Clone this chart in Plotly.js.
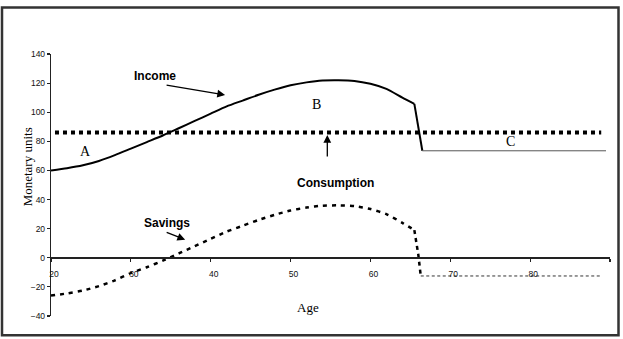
<!DOCTYPE html>
<html>
<head>
<meta charset="utf-8">
<script src="https://cdn.plot.ly/plotly-3.0.1.min.js"></script>
<style>html,body{margin:0;padding:0;background:#fff;}#chart{width:623px;height:339px;}</style>
</head>
<body>
<div id="chart"></div>
<script>
// Income (working life)
const incomeAges = [20,22,24,26,28,30,32,34,36,38,40,42,44,46,48,50,52,54,56,58,60,62,64,65.5];
const incomeVals = [60,61.5,63.5,66.5,70.5,75,79.5,84,89,94,99,104,108,112,115.5,118.5,120.5,121.8,122,121.5,119.5,116,110,105.7];
// Drop at retirement
const dropAges = [65.5,66.5];
const dropVals = [105.7,73.5];
// Income after retirement (pension)
const pensionAges = [66.5,89.5];
const pensionVals = [73.5,73.5];
// Consumption (flat)
const consAges = [20.5,88.9];
const consVals = [86,86];
// Savings
const savAges = [20,22,24,26,28,30,32,34,36,38,40,42,44,46,48,50,52,54,56,58,60,62,64,65.5];
const savVals = [-26,-24.5,-22.5,-19.5,-15.5,-10.5,-6.5,-2,3,8,13,18,22,26,29.5,32.5,34.5,35.8,36,35.5,33.5,30,24,19];
const savDropAges = [65.5,66,66.3];
const savDropVals = [19,2,-12.5];
// Dissaving after retirement
const dissAges = [66.3,88.9];
const dissVals = [-12.5,-12.5];
// Axis ticks
const xTicks = [20,30,40,50,60,70,80,90];
const xTickText = ['20','30','40','50','60','70','80',''];
const yTicks = [-40,-20,0,20,40,60,80,100,120,140];

const traces = [
  {x: consAges, y: consVals, mode:'lines', line:{color:'#000', width:4, dash:'4px,4px'}, hoverinfo:'skip'},
  {x: incomeAges, y: incomeVals, mode:'lines', line:{color:'#000', width:2, shape:'spline', smoothing:0.6}, hoverinfo:'skip'},
  {x: dropAges, y: dropVals, mode:'lines', line:{color:'#000', width:2}, hoverinfo:'skip'},
  {x: pensionAges, y: pensionVals, mode:'lines', line:{color:'#555', width:1}, hoverinfo:'skip'},
  {x: savAges, y: savVals, mode:'lines', line:{color:'#000', width:2.5, dash:'4px,5px', shape:'spline', smoothing:0.6}, hoverinfo:'skip'},
  {x: savDropAges, y: savDropVals, mode:'lines', line:{color:'#000', width:2.5, dash:'4px,4px'}, hoverinfo:'skip'},
  {x: dissAges, y: dissVals, mode:'lines', line:{color:'#333', width:1, dash:'3px,2.5px'}, hoverinfo:'skip'}
];

const bold = {family:'Liberation Sans, Arial, sans-serif', size:12, color:'#000', weight:'bold'};
const serif = {family:'Liberation Serif, Times New Roman, serif', size:14, color:'#000'};
const tickFont = {family:'Liberation Sans, Arial, sans-serif', size:8.5, color:'#111'};

const layout = {
  width:623, height:339,
  margin:{l:51, r:13, t:54, b:23, pad:0},
  paper_bgcolor:'#fff', plot_bgcolor:'#fff',
  showlegend:false,
  xaxis:{
    range:[20,90], anchor:'free', position:40/180,
    showgrid:false, zeroline:false,
    showline:true, linecolor:'#222', linewidth:2,
    ticks:'outside', ticklen:3, tickwidth:1.2, tickcolor:'#222',
    tickvals:xTicks, ticktext:xTickText,
    ticklabelstandoff:5, ticklabelshift:3,
    tickfont:tickFont
  },
  yaxis:{
    range:[-40,140],
    showgrid:false, zeroline:false,
    showline:true, linecolor:'#222', linewidth:1.2,
    ticks:'outside', ticklen:3, tickwidth:1.2, tickcolor:'#222',
    tickvals:yTicks,
    tickfont:tickFont
  },
  shapes:[
    {type:'rect', xref:'paper', yref:'paper', x0:(2-51)/559, x1:(618.5-51)/559, y0:(316.3-335.5)/262.3, y1:(316.3-7.5)/262.3,
     line:{color:'#333', width:2.5}, fillcolor:'rgba(0,0,0,0)'}
  ],
  annotations:[
    {xref:'x', yref:'y', x:33.0, y:124.9, text:'<b>Income</b>', showarrow:false, font:bold},
    {xref:'x', yref:'y', x:41.8, y:111.9, text:'', showarrow:true, arrowhead:2, arrowsize:1.2, arrowwidth:1.3, arrowcolor:'#000', ax:-60, ay:-10},
    {xref:'x', yref:'y', x:53.3, y:105.5, text:'B', showarrow:false, font:serif},
    {xref:'x', yref:'y', x:54.6, y:84.4, text:'', showarrow:true, arrowhead:2, arrowsize:1.2, arrowwidth:1.3, arrowcolor:'#000', ax:0, ay:23},
    {xref:'x', yref:'y', x:55.6, y:51.3, text:'<b>Consumption</b>', showarrow:false, font:bold},
    {xref:'x', yref:'y', x:24.3, y:73, text:'A', showarrow:false, font:serif},
    {xref:'x', yref:'y', x:77.5, y:79.8, text:'C', showarrow:false, font:serif},
    {xref:'x', yref:'y', x:34.5, y:23.8, text:'<b>Savings</b>', showarrow:false, font:bold},
    {xref:'x', yref:'y', x:36.8, y:12.4, text:'', showarrow:true, arrowhead:2, arrowsize:1.2, arrowwidth:1.3, arrowcolor:'#000', ax:-20, ay:-8},
    {xref:'paper', yref:'paper', x:(18-51)/559, y:(316.3-167)/262.3, text:'Monetary units', textangle:-90, showarrow:false,
     font:{family:'Liberation Serif, Times New Roman, serif', size:13, color:'#000'}},
    {xref:'x', yref:'paper', x:52.2, y:(316.3-317)/262.3, text:'Age', showarrow:false,
     font:{family:'Liberation Serif, Times New Roman, serif', size:13, color:'#000'}}
  ]
};

Plotly.newPlot('chart', traces, layout, {staticPlot:true, displayModeBar:false});
</script>
</body>
</html>
